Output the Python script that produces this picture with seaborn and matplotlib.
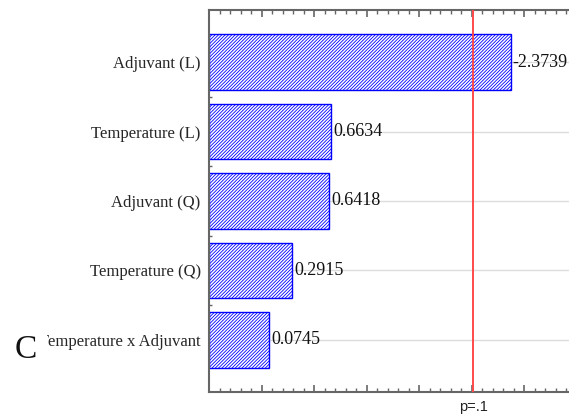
import matplotlib
matplotlib.use("Agg")
import matplotlib.pyplot as plt
from matplotlib.patches import Rectangle
from matplotlib.ticker import MultipleLocator, FixedLocator
import pandas as pd
import seaborn as sns

# Standardized effect estimates (signed) for each model term
terms = ["Adjuvant (L)", "Temperature (L)", "Adjuvant (Q)",
         "Temperature (Q)", "Temperature x Adjuvant"]
effects = [-2.3739, 0.6634, 0.6418, 0.2915, 0.0745]

# Critical value for significance and its label
p_crit = 2.015
p_label = "p=.1"
panel_letter = "C"

sns.set_style("white")
plt.rcParams["font.family"] = ["Liberation Serif", "DejaVu Serif"]
plt.rcParams["hatch.linewidth"] = 0.6

W, H = 569, 416
fig = plt.figure(figsize=(W / 100, H / 100), dpi=100)
ax = fig.add_axes([209 / W, 24 / H, 388.5 / W, 382 / H])

df = pd.DataFrame({"term": terms, "effect": effects})
df["size"] = df["effect"].abs()

x_min, x_max = -0.5, 3.2
blue = "#0000ff"

sns.barplot(data=df, x="size", y="term", orient="h", width=0.8,
            color=blue, ax=ax)

# Bars run from the left edge of the axis, densely hatched in blue
for patch, v in zip(ax.patches, df["size"]):
    patch.set_x(x_min)
    patch.set_width(v - x_min)
    patch.set_facecolor("white")
    patch.set_edgecolor(blue)
    patch.set_hatch("/" * 10)
    patch.set_linewidth(1.0)
    patch.set_zorder(2)

# Value labels at the end of each bar
for i, (v, e) in enumerate(zip(df["size"], df["effect"])):
    ax.text(v + 0.02, i, f"{e:.4f}", ha="left", va="center",
            fontsize=13, color="#111111", zorder=4)

ax.set_xlim(x_min, x_max)
ax.set_ylim(len(terms) - 0.25, -0.75)
ax.set_xlabel("")
ax.set_ylabel("")

# Significance threshold
ax.axvline(p_crit, color="#ff4a4a", lw=1.4, zorder=3)
ax.text(p_crit, -0.02, p_label, transform=ax.get_xaxis_transform(),
        ha="center", va="top", fontsize=10.5,
        family=["Liberation Sans", "DejaVu Sans"], color="#222222")

ax.grid(axis="y", which="major", color="#dcdcdc", lw=1.0)
ax.set_axisbelow(True)

spine_col = "#666666"
for s in ax.spines.values():
    s.set_color(spine_col)
    s.set_linewidth(1.5)

ax.xaxis.set_major_locator(MultipleLocator(0.5))
ax.xaxis.set_minor_locator(MultipleLocator(0.1))
ax.tick_params(axis="x", which="both", direction="in", top=True, bottom=True,
               labelbottom=False, labeltop=False, color=spine_col)
ax.tick_params(axis="x", which="major", length=5, width=1.2)
ax.tick_params(axis="x", which="minor", length=3, width=1.0)

ax.yaxis.set_minor_locator(FixedLocator([i + 0.5 for i in range(len(terms) - 1)]))
ax.tick_params(axis="y", which="both", direction="in", left=True,
               color=spine_col, width=1.0)
ax.tick_params(axis="y", which="major", length=3, labelsize=12, pad=6)
ax.tick_params(axis="y", which="minor", length=2)

# Panel letter on a white patch
fig.add_artist(Rectangle((0, 1 - 370 / H), 47 / W, 50 / H,
                         transform=fig.transFigure, facecolor="white",
                         edgecolor="none", zorder=5))
fig.text(26 / W, 1 - 358 / H, panel_letter, ha="center", va="baseline",
         fontsize=24, color="#111111", zorder=6)

fig.savefig("out.png", dpi=100)
